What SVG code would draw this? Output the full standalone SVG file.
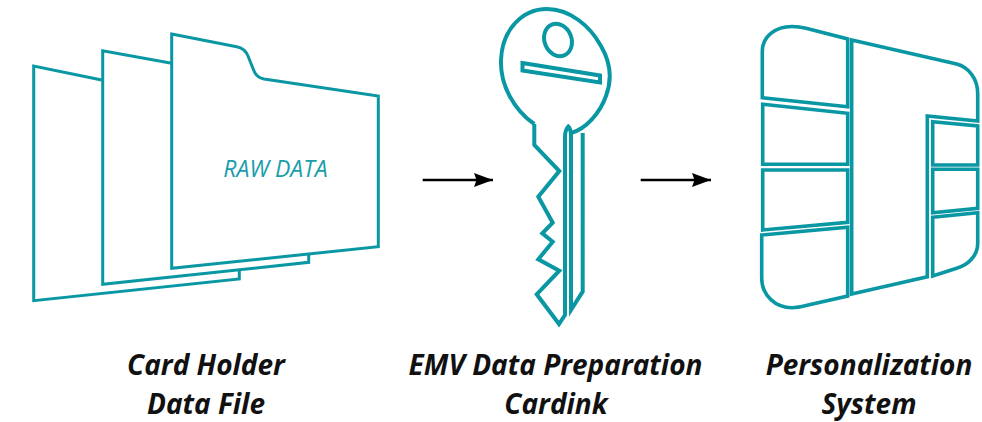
<svg xmlns="http://www.w3.org/2000/svg" width="982" height="422" viewBox="0 0 982 422">
<style>
.s{fill:none;stroke:#0a97a4;stroke-width:3;stroke-linejoin:miter}
.k{fill:none;stroke:#0a97a4;stroke-width:4;stroke-linejoin:miter}
.p{fill:none;stroke:#0a97a4;stroke-width:3.6;stroke-linejoin:miter}
.l{font-family:"Open Sans","Liberation Sans",sans-serif;font-style:italic;font-weight:700;font-size:28px;fill:#111;text-anchor:middle}
.r{font-family:"Open Sans","Liberation Sans",sans-serif;font-style:italic;font-size:23px;fill:#1a9dab;text-anchor:middle}
.c{fill:none;stroke:#000;stroke-width:2.4}
</style>
<defs><marker id="a" markerUnits="userSpaceOnUse" markerWidth="22" markerHeight="16" refX="19" refY="8" orient="auto"><path d="M0 1L19 8L0 15L2.5 8Z" fill="#000"/></marker></defs>
<g id="file-back">
<path class="s" d="M101.7 80L33.7 66V300.7L239.3 279V270.7"/>
</g>
<g id="file-middle">
<path class="s" d="M171.7 63.3L102.7 50.7V284.3L308.7 262.3V254.3"/>
</g>
<g id="file-front">
<path class="s" d="M171.7 34L236.7 46.7C243 48 246 51 248 56L254 71C256 76 259 78 264 79L378.3 96V246.7L171.7 268.3Z"/>
<text class="r" x="275.5" y="177">RAW DATA</text>
</g>
<g id="key">
<path class="k" d="M534.3 124C514 110 500 85 501 60C502 30 522 9 547 9C570 9 590 26 601 46C611 63 612 80 606 96C600 113 586 129 571 133"/>
<ellipse class="k" cx="558" cy="40" rx="13.5" ry="16.5" transform="rotate(-22 558 40)"/>
<path class="k" d="M522.5 63L600 75.5V82.5L522.5 70.5Z"/>
<path class="k" d="M534.3 124V145L559.3 171L538.3 196.7L552.7 222.7L542.3 233.3L552.7 241.7L538.3 259.3L559.3 270.7L536.7 294.3L559 324L565 315V136.7C565 132 567 128 568.3 126.5C570 128 571 132 571 136.7V310L582.7 291.7V133"/>
</g>
<g id="system">
<path class="p" d="M762.3 97.7V51.7C762.3 36 776 26.5 792 26.5C797 26.5 801 27 806 28.3L847.7 39V106.7Z"/>
<path class="p" d="M762.7 104.3L847.7 113.3V164.3H762.7Z"/>
<path class="p" d="M762.7 170H847.7V222.3L762.7 230Z"/>
<path class="p" d="M761.7 235L847.7 227.3V296L806 305.5C801 306.8 797 307.7 792 307.7C776 307.7 761.7 296 761.7 278Z"/>
<path class="p" d="M851.7 40L956.7 64C968 67 977.7 78 977.7 93.3V121L927.3 116V276.7L851.7 294Z"/>
<path class="p" d="M932.7 121.7L977.7 126V165H932.7Z"/>
<path class="p" d="M932.7 169.3H977.7V208.3L932.7 212.7Z"/>
<path class="p" d="M932.7 217.3L977.7 212.7V243.3C977.7 256 968 265 956.7 268.3L932.7 276Z"/>
</g>
<g id="connectors">
<path class="c" marker-end="url(#a)" d="M422.7 180H493"/>
<path class="c" marker-end="url(#a)" d="M640.7 180H711"/>
</g>
<g id="labels">
<text class="l" x="206" y="375">Card Holder</text>
<text class="l" x="206" y="414">Data File</text>
<text class="l" x="555.5" y="375">EMV Data Preparation</text>
<text class="l" x="556" y="414">Cardink</text>
<text class="l" x="869" y="375">Personalization</text>
<text class="l" x="869" y="414">System</text>
</g>
</svg>
